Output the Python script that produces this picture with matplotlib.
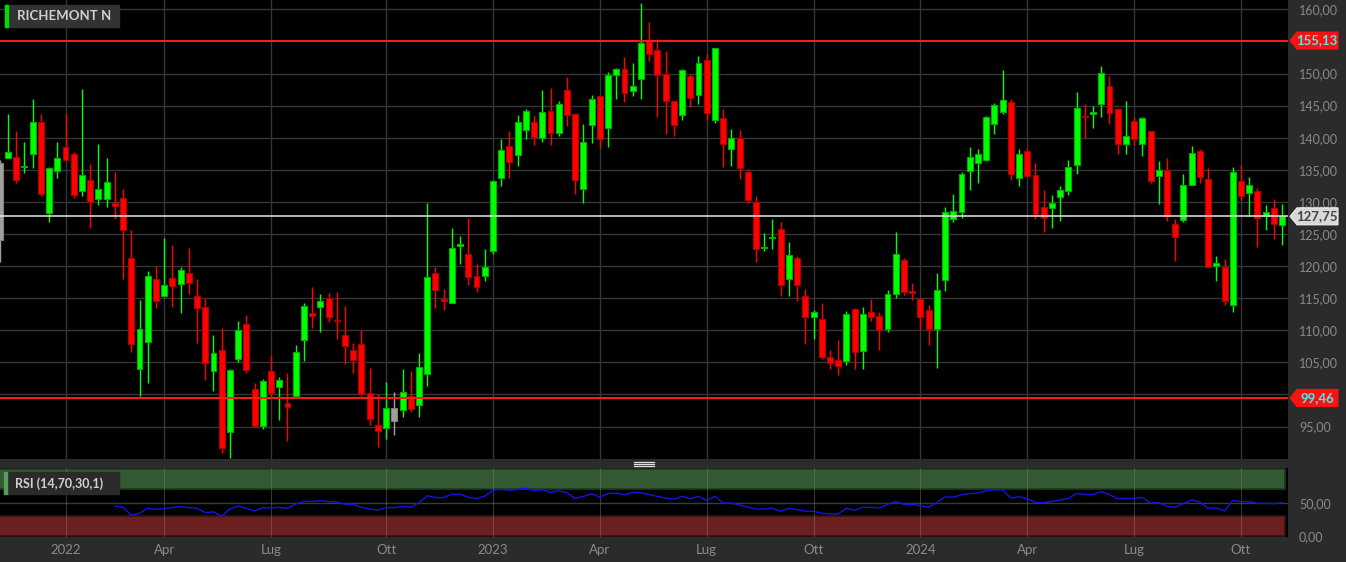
import matplotlib
matplotlib.use("Agg")
import matplotlib.pyplot as plt
import matplotlib.transforms as mtransforms
from matplotlib.patches import Polygon, Rectangle
from matplotlib.lines import Line2D
from matplotlib.ticker import FuncFormatter
import numpy as np
import pandas as pd

plt.rcParams['font.family'] = ['Lato', 'DejaVu Sans']

# weekly candles, first one (gray) is cut by the left edge
weeks = pd.date_range('2021-11-08', periods=157, freq='W-MON')

opens = [124.1, 136.8, 137.05, 135.4, 137.4, 142.5, 128.2, 134.8, 138.5, 137.5,
         131.7, 133.4, 130.5, 130.4, 129.9, 130.6, 121.3, 103.9, 108.1, 118.05,
         115.4, 118.1, 117.2, 118.9, 115.4, 113.7, 103.6, 107.0, 94.2, 105.5,
         111.0, 100.8, 95.15, 103.7, 101.2, 98.6, 99.8, 108.5, 112.7, 113.7,
         115.1, 111.6, 109.3, 107.0, 107.9, 100.3, 95.2, 94.8, 95.8, 97.6,
         99.8, 98.4, 103.25, 119.0, 114.8, 114.2, 123.2, 121.9, 118.5, 118.5,
         122.4, 133.8, 138.7, 137.3, 141.2, 142.4, 140.0, 144.2, 140.8, 147.5,
         143.7, 132.0, 142.0, 146.5, 141.5, 149.7, 150.65, 147.2, 149.1, 155.1,
         153.6, 150.0, 145.7, 143.6, 149.6, 146.6, 152.1, 142.8, 143.0, 138.3,
         139.9, 134.7, 129.95, 122.85, 124.35, 125.85, 118.0, 121.3, 115.4, 112.1,
         111.7, 105.9, 105.35, 105.25, 113.25, 106.85, 112.8, 112.2, 110.2, 115.7,
         120.9, 116.05, 114.8, 113.1, 110.2, 117.85, 127.4, 128.35, 134.8, 136.0,
         136.6, 142.2, 144.0, 145.5, 133.75, 137.95, 134.2, 129.2, 129.1, 130.7,
         131.7, 135.8, 143.45, 143.65, 145.3, 148.0, 144.4, 138.95, 142.6, 139.0,
         141.0, 134.05, 134.9, 126.6, 127.25, 132.7, 137.9, 133.5, 120.05, 119.9,
         113.9, 133.2, 131.4, 131.7, 127.8, 129.0, 126.4]
highs = [136.5, 143.7, 141.1, 139.3, 146.0, 143.7, 135.5, 139.3, 143.7, 137.7,
         147.6, 135.9, 139.0, 136.85, 134.6, 132.0, 125.6, 114.7, 119.3, 120.0,
         124.4, 123.35, 119.9, 122.8, 118.0, 115.0, 109.3, 110.4, 104.0, 111.5,
         112.4, 101.75, 102.4, 106.2, 102.7, 103.4, 107.7, 114.2, 116.8, 115.7,
         115.8, 115.9, 113.8, 108.0, 110.0, 104.2, 100.0, 101.9, 100.4, 103.9,
         103.65, 106.4, 129.8, 119.9, 116.5, 126.0, 124.75, 127.45, 120.3, 122.6,
         133.4, 139.75, 141.05, 143.6, 144.5, 143.5, 147.4, 147.7, 145.7, 149.4,
         143.9, 142.1, 146.7, 146.5, 150.3, 150.8, 152.6, 151.7, 161.0, 158.1,
         155.45, 153.5, 145.8, 150.7, 149.9, 152.7, 153.1, 153.9, 144.5, 141.3,
         141.2, 135.2, 130.9, 125.2, 127.4, 126.8, 123.7, 121.5, 116.5, 113.2,
         114.2, 106.9, 108.5, 113.0, 113.4, 113.55, 114.8, 112.9, 116.35, 125.3,
         121.2, 117.3, 115.2, 113.9, 118.85, 129.2, 131.3, 134.7, 138.5, 138.2,
         143.35, 145.4, 150.6, 146.05, 138.2, 138.3, 136.1, 131.8, 131.05, 132.45,
         136.6, 147.05, 145.3, 145.0, 151.15, 149.6, 144.65, 145.7, 143.25, 143.25,
         141.0, 136.35, 136.9, 127.4, 134.3, 138.7, 138.3, 135.3, 121.5, 121.05,
         135.4, 135.7, 133.9, 132.1, 129.5, 130.4, 129.65]
lows = [120.7, 136.8, 132.9, 134.5, 135.3, 130.9, 126.8, 133.8, 136.4, 130.6,
        130.9, 125.9, 129.5, 129.2, 127.3, 118.0, 106.6, 99.8, 101.8, 113.5,
        115.15, 113.6, 112.7, 115.7, 108.0, 102.2, 100.6, 90.85, 90.1, 105.0,
        103.3, 94.9, 94.6, 99.6, 96.0, 92.7, 99.6, 105.2, 110.4, 109.7,
        111.35, 108.6, 104.7, 103.3, 99.7, 95.3, 91.8, 93.0, 93.7, 96.55,
        97.2, 96.45, 101.3, 113.4, 113.2, 114.2, 120.4, 117.05, 115.9, 117.7,
        121.9, 132.5, 133.7, 135.65, 139.8, 138.8, 139.4, 138.8, 140.2, 141.8,
        131.3, 129.8, 139.1, 138.35, 138.6, 146.1, 145.5, 146.55, 146.0, 151.9,
        143.15, 140.5, 140.3, 142.7, 144.8, 145.2, 142.7, 142.3, 135.5, 135.6,
        133.5, 129.85, 120.7, 122.4, 122.7, 115.4, 115.4, 114.6, 107.9, 108.7,
        105.6, 103.9, 103.0, 104.6, 103.9, 103.9, 111.4, 106.9, 109.75, 115.05,
        115.5, 114.7, 110.0, 107.7, 104.05, 116.1, 126.9, 127.5, 131.9, 133.0,
        136.4, 140.55, 143.7, 133.4, 132.55, 133.9, 127.4, 125.3, 126.0, 127.05,
        131.15, 134.3, 140.0, 141.5, 143.25, 142.2, 137.4, 137.4, 138.8, 137.2,
        132.9, 129.6, 127.0, 120.8, 126.8, 132.7, 133.0, 119.8, 117.7, 113.9,
        112.8, 130.3, 127.8, 123.0, 125.6, 124.2, 123.25]
closes = [136.0, 137.8, 133.4, 135.6, 142.4, 131.2, 135.3, 136.85, 136.6, 131.0,
          134.25, 130.0, 132.0, 133.1, 129.3, 125.7, 107.9, 110.2, 118.5, 114.5,
          117.1, 116.85, 119.45, 117.3, 113.4, 104.9, 106.4, 91.7, 103.8, 110.05,
          103.8, 95.1, 102.1, 100.2, 102.2, 98.0, 106.6, 113.85, 112.3, 114.5,
          112.1, 111.45, 107.6, 105.4, 100.1, 96.2, 94.3, 97.85, 97.85, 100.45,
          97.75, 104.3, 118.3, 116.3, 114.6, 122.8, 123.3, 118.3, 116.8, 119.9,
          133.3, 138.1, 136.2, 142.4, 144.2, 140.1, 144.0, 140.8, 145.2, 143.5,
          133.4, 139.3, 146.0, 139.8, 149.7, 150.75, 147.0, 148.0, 154.7, 153.0,
          149.7, 145.7, 142.0, 150.5, 146.2, 151.7, 143.9, 153.9, 139.0, 140.0,
          135.3, 130.3, 122.6, 123.0, 124.5, 117.0, 121.65, 117.0, 112.0, 112.8,
          105.9, 104.9, 104.5, 112.5, 106.65, 112.55, 112.1, 110.0, 115.7, 121.85,
          116.0, 115.8, 112.1, 110.2, 116.35, 128.45, 128.55, 134.3, 137.0, 137.5,
          143.15, 145.1, 145.8, 134.3, 137.4, 134.0, 128.1, 127.5, 129.8, 131.8,
          135.45, 144.7, 143.25, 144.0, 150.1, 143.9, 139.0, 140.2, 139.8, 143.0,
          133.2, 134.9, 127.8, 124.55, 132.6, 137.65, 133.9, 119.8, 120.45, 114.6,
          134.65, 130.9, 132.7, 127.5, 128.4, 126.6, 127.75]

# RSI(14) starts at candle 14
rsi_start = 14
rsi = [45.1, 43.1, 31.2, 34.2, 41.6, 40.1, 41.6, 42.6, 44.1, 42.6,
       41.6, 35.2, 36.2, 29.8, 40.6, 45.1, 41.6, 37.7, 42.6, 42.1,
       43.1, 41.6, 48.0, 52.0, 52.0, 53.0, 51.5, 51.0, 47.5, 47.5,
       43.1, 40.6, 39.1, 42.6, 42.6, 44.6, 43.1, 50.0, 60.4, 57.9,
       57.4, 62.8, 62.8, 57.9, 56.4, 59.9, 68.3, 70.2, 68.3, 70.2,
       71.7, 67.8, 69.3, 65.3, 67.8, 64.8, 56.4, 59.4, 63.3, 58.4,
       63.8, 64.3, 61.9, 65.3, 64.8, 62.3, 59.4, 57.0, 55.4, 59.4,
       55.9, 59.4, 53.5, 59.4, 49.5, 49.5, 46.5, 43.6, 40.6, 40.6,
       41.6, 37.2, 41.6, 39.6, 37.2, 37.2, 34.2, 33.2, 33.2, 41.6,
       38.6, 43.1, 43.1, 42.1, 47.5, 52.0, 47.5, 47.5, 45.6, 43.1,
       50.5, 58.4, 58.4, 61.9, 63.8, 64.3, 67.8, 69.3, 69.3, 56.9,
       58.9, 55.9, 50.5, 50.0, 52.0, 54.0, 56.4, 63.8, 62.3, 62.3,
       66.8, 61.9, 55.9, 56.4, 56.4, 57.9, 49.5, 50.0, 44.6, 43.1,
       49.0, 54.4, 51.0, 41.6, 42.1, 37.7, 53.5, 51.5, 51.5, 49.0,
       49.0, 48.5, 50.0]

resistance = 155.13
support = 99.46
last_price = closes[-1]

W, H = 1346, 562
fig = plt.figure(figsize=(W / 100, H / 100), dpi=100, facecolor='#2b2b2b')


def px_axes(x0, y0, x1, y1):
    return fig.add_axes([x0 / W, 1 - y1 / H, (x1 - x0) / W, (y1 - y0) / H])


ax = px_axes(0, 0, 1288, 459)
rax = px_axes(0, 468, 1288, 537)

xmin, xmax = 0.027, 156.72
comma = FuncFormatter(lambda v, p: f"{v:.2f}".replace('.', ','))


def price_label(v, p):
    # labels sitting under a price tag are hidden, as in the platform
    if abs(v - resistance) < 2 or abs(v - support) < 2:
        return ''
    return f"{v:.2f}".replace('.', ',')


# month ticks: first weekly candle touching the first weekday of the month
month_names = {4: 'Apr', 7: 'Lug', 10: 'Ott'}
tick_idx, tick_lab = [], []
for year in (2022, 2023, 2024):
    for m in (1, 4, 7, 10):
        first = pd.Timestamp(year, m, 1)
        k = int(np.argmax((weeks + pd.Timedelta(days=4)) >= first))
        tick_idx.append(k)
        tick_lab.append(str(year) if m == 1 else month_names[m])

# ---- price panel
ax.set_facecolor('black')
for s in ax.spines.values():
    s.set_visible(False)
ax.set_xlim(xmin, xmax)
ax.set_ylim(89.95, 161.45)
ax.set_yticks(np.arange(95, 161, 5))
ax.yaxis.set_major_formatter(FuncFormatter(price_label))
ax.yaxis.tick_right()
ax.tick_params(axis='y', length=0, pad=8, labelsize=9, labelcolor='#8a8a8a')
ax.set_xticks(tick_idx)
ax.tick_params(axis='x', length=0, labelbottom=False)
ax.grid(True, color='#363636', lw=1)
ax.set_axisbelow(True)

for i in range(len(closes)):
    o, h, l, c = opens[i], highs[i], lows[i], closes[i]
    if i == 0 or c == closes[i - 1]:
        col, ec = '#a0a0a0', '#808080'
    elif c > o:
        col, ec = '#00ff00', '#00b000'
    else:
        col, ec = '#ff0000', '#b00000'
    ax.vlines(i, l, h, color=col, lw=1, zorder=3)
    ax.bar(i, max(abs(c - o), 0.2), bottom=min(o, c), width=0.72,
           color=col, edgecolor=ec, lw=0.8, zorder=4)

ax.axhline(resistance, color='#ff1a1a', lw=1.4, zorder=5)
ax.axhline(support, color='#ff1a1a', lw=1.4, zorder=5)
ax.axhline(last_price, color='#e8e8e8', lw=1.1, zorder=5)

blend = mtransforms.blended_transform_factory(fig.transFigure, ax.transData)


def price_tag(y, face, tcolor, edge):
    hh = 8.5 / 6.42
    pts = [(1290 / W, y), (1297 / W, y + hh), (1338 / W, y + hh),
           (1338 / W, y - hh), (1297 / W, y - hh)]
    ax.add_patch(Polygon(pts, closed=True, transform=blend, clip_on=False,
                         facecolor=face, edgecolor=edge, lw=0.8, zorder=10))
    ax.text(1317 / W, y, f"{y:.2f}".replace('.', ','), transform=blend,
            ha='center', va='center', fontsize=9.5, fontweight='bold',
            color=tcolor, clip_on=False, zorder=11)


price_tag(resistance, '#ff1010', '#40f0f0', '#ff1010')
price_tag(last_price, '#d8d8d8', '#444444', '#f0f0f0')
price_tag(support, '#ff1010', '#40f0f0', '#ff1010')

# title badge
fig.add_artist(Rectangle((5 / W, 1 - 27 / H), 114 / W, 22 / H,
                         transform=fig.transFigure, color='#333333', zorder=5))
fig.add_artist(Rectangle((5 / W, 1 - 27 / H), 3 / W, 22 / H,
                         transform=fig.transFigure, color='#00dd00', zorder=6))
fig.text(17 / W, 1 - 16.5 / H, 'RICHEMONT N', fontsize=9.5, fontweight='bold',
         color='#d0d0d0', va='center', ha='left', zorder=7)

# splitter handle
for yy in (461.5, 463.5, 465.5):
    fig.add_artist(Line2D([634 / W, 654 / W], [1 - yy / H, 1 - yy / H],
                          transform=fig.transFigure, color='#e0e0e0', lw=0.9))

# ---- RSI panel
rax.set_facecolor('black')
for s in rax.spines.values():
    s.set_visible(False)
rax.set_xlim(xmin, xmax)
rax.set_ylim(-1.2, 101.8)
last = len(closes) - 1
rax.fill_between([xmin - 1, last + 0.36], 70, 100, color='#335a33',
                 edgecolor='#1d3a1d', lw=1.2, zorder=1)
rax.fill_between([xmin - 1, last + 0.36], 0, 30, color='#6b1f1f',
                 edgecolor='#3a1010', lw=1.2, zorder=1)
rax.axhline(50, color='#3a3a3a', lw=1, zorder=0.5)
for k in tick_idx:
    rax.axvline(k, color='#7a7a7a', lw=0.8, alpha=0.45, zorder=2)
rax.plot(np.arange(rsi_start, rsi_start + len(rsi)), rsi, color='#1414e6',
         lw=1, zorder=3)
rax.set_yticks([0, 50])
rax.yaxis.set_major_formatter(comma)
rax.yaxis.tick_right()
rax.tick_params(axis='y', length=0, pad=8, labelsize=9, labelcolor='#8a8a8a')
rax.set_xticks(tick_idx)
rax.set_xticklabels(tick_lab)
rax.tick_params(axis='x', length=0, pad=5, labelsize=9.5, labelcolor='#8a8a8a')

fig.add_artist(Rectangle((4 / W, 1 - 494 / H), 115 / W, 22 / H,
                         transform=fig.transFigure, color='#2a2a2a', zorder=5))
fig.add_artist(Rectangle((4 / W, 1 - 494 / H), 3 / W, 22 / H,
                         transform=fig.transFigure, color='#5a9a5a', zorder=6))
fig.text(15 / W, 1 - 483.5 / H, 'RSI (14,70,30,1)', fontsize=9, fontweight='bold',
         color='#d0d0d0', va='center', ha='left', zorder=7)

fig.savefig('out.png', dpi=100, facecolor=fig.get_facecolor())
